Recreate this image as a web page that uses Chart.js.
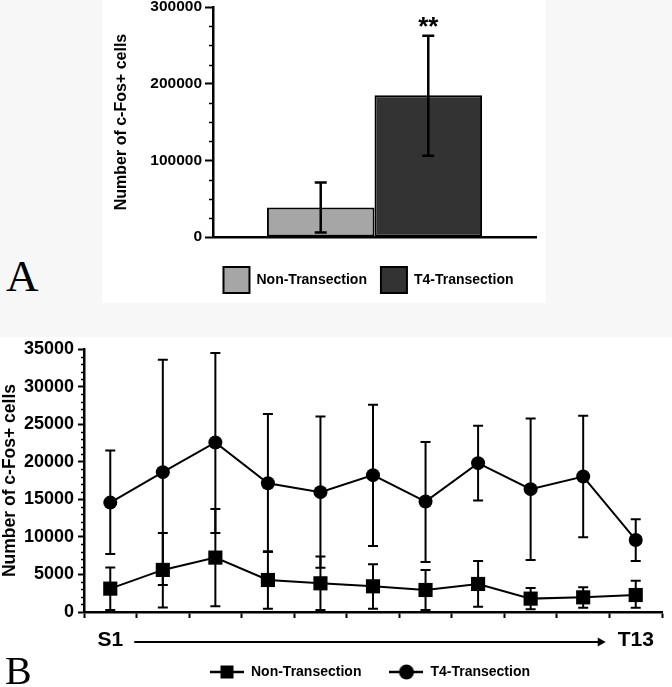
<!DOCTYPE html>
<html>
<head>
<meta charset="utf-8">
<script src="https://cdn.jsdelivr.net/npm/chart.js@4/dist/chart.umd.min.js"></script>
<style>
  body { margin: 0; width: 672px; height: 687px; background: #fff; position: relative; overflow: hidden; }
  .band { position: absolute; left: 0; top: 0; width: 672px; height: 337px; background: #f7f7f7; }
  .panel-a { position: absolute; left: 102px; top: 0; width: 444px; height: 303px; background: #fff; }
  .panel-b { position: absolute; left: 0; top: 337px; width: 672px; height: 350px; background: #fff; }
  .letter { position: absolute; font-family: "Liberation Serif", "DejaVu Serif", serif; color: #000; line-height: 1; }
</style>
</head>
<body>
<div class="band"></div>
<div class="panel-a"><canvas id="barChart" width="444" height="303"></canvas></div>
<div class="letter" style="left:6px; top:254px; font-size:45px;">A</div>
<div class="panel-b"><canvas id="lineChart" width="672" height="350"></canvas></div>
<div class="letter" style="left:5px; top:651px; font-size:40px;">B</div>
<script>
// DATA ################################################################################

// panel A - total counts
var groupNames = ['Non-Transection', 'T4-Transection'];
var totalMeans = [38500, 184800];
var totalHigh = [71000, 262600];
var totalLow = [6000, 106000];

// panel B - per segment counts
var segmentLabels = ['S1', '', '', '', '', '', '', '', '', '', 'T13'];
var nonMeans = [3110, 5600, 7240, 4260, 3820, 3420, 2930, 3730, 1780, 1950, 2260];
var nonHigh  = [5910, 10500, 13720, 8080, 7390, 6350, 5600, 6800, 3200, 3290, 4170];
var nonLow   = [270, 600, 760, 440, 250, 440, 270, 710, 360, 580, 580];
var t4Means  = [14560, 18610, 22560, 17140, 15950, 18210, 14700, 19810, 16350, 18030, 9590];
var t4High   = [21490, 33580, 34470, 26340, 26030, 27580, 22610, 24780, 25760, 26120, 12350];
var t4Low    = [7730, 3600, 10500, 8000, 5880, 8790, 6660, 14830, 6930, 9950, 6800];

var FONT = '"Liberation Sans", Arial, sans-serif';
Chart.defaults.font.family = FONT;
Chart.defaults.color = '#000';

function plainNumber(v) { return String(v); }

// PLUGINS #############################################################################

// error bars from dataset.errHigh / dataset.errLow
var errorBars = {
    id: 'errorBars',
    afterDatasetsDraw: function(chart, args, opts) {
        var ctx = chart.ctx;
        var yScale = chart.scales.y;
        ctx.save();
        ctx.strokeStyle = '#000';
        ctx.lineWidth = opts.width || 2;
        chart.data.datasets.forEach(function(ds, i) {
            var meta = chart.getDatasetMeta(i);
            meta.data.forEach(function(el, j) {
                var x = el.x;
                var top = yScale.getPixelForValue(ds.errHigh[j]);
                var bot = yScale.getPixelForValue(ds.errLow[j]);
                var cap = opts.cap || 5;
                ctx.beginPath();
                ctx.moveTo(x, top); ctx.lineTo(x, bot);
                ctx.moveTo(x - cap, top); ctx.lineTo(x + cap, top);
                ctx.moveTo(x - cap, bot); ctx.lineTo(x + cap, bot);
                ctx.stroke();
            });
        });
        ctx.restore();
    }
};

// short minor ticks on the y axis
var minorTicks = {
    id: 'minorTicks',
    afterDraw: function(chart, args, opts) {
        var ctx = chart.ctx;
        var y = chart.scales.y;
        ctx.save();
        ctx.strokeStyle = '#000';
        ctx.lineWidth = 1.5;
        for (var v = y.min; v <= y.max; v += opts.step) {
            if (v % opts.major === 0) continue;
            var py = Math.round(y.getPixelForValue(v)) + 0.5;
            ctx.beginPath();
            ctx.moveTo(y.right - opts.length, py);
            ctx.lineTo(y.right, py);
            ctx.stroke();
        }
        ctx.restore();
    }
};

// nudge the legend box after layout (bottom edge stays, so nothing gets clipped)
var legendShift = {
    id: 'legendShift',
    afterLayout: function(chart, args, opts) {
        var lg = chart.legend;
        if (!lg) return;
        lg.left += opts.dx || 0;
        lg.right += opts.dx || 0;
        lg.top += opts.dy || 0;
    }
};

// significance stars over the T4 bar
var stars = {
    id: 'stars',
    afterDraw: function(chart) {
        var ctx = chart.ctx;
        var el = chart.getDatasetMeta(1).data[0];
        var top = chart.scales.y.getPixelForValue(chart.data.datasets[1].errHigh[0]);
        ctx.save();
        ctx.font = 'bold 26px ' + FONT;
        ctx.textAlign = 'center';
        ctx.textBaseline = 'alphabetic';
        ctx.fillStyle = '#000';
        ctx.fillText('**', el.x, top - 1);
        ctx.restore();
    }
};

// S1 -> T13 arrow under the x axis
var segmentArrow = {
    id: 'segmentArrow',
    afterDraw: function(chart) {
        var ctx = chart.ctx;
        var x = chart.scales.x;
        var x0 = x.getPixelForValue(0) + 24;
        var x1 = x.getPixelForValue(segmentLabels.length - 1) - 30;
        var yy = chart.chartArea.bottom + 30;
        ctx.save();
        ctx.strokeStyle = '#000';
        ctx.fillStyle = '#000';
        ctx.lineWidth = 2;
        ctx.beginPath();
        ctx.moveTo(x0, yy); ctx.lineTo(x1 - 6, yy);
        ctx.stroke();
        ctx.beginPath();
        ctx.moveTo(x1, yy); ctx.lineTo(x1 - 8, yy - 4.5); ctx.lineTo(x1 - 8, yy + 4.5);
        ctx.closePath();
        ctx.fill();
        ctx.restore();
    }
};

function legendMarker(shape) {
    var c = document.createElement('canvas');
    c.width = 34; c.height = 16;
    var g = c.getContext('2d');
    g.strokeStyle = '#000';
    g.fillStyle = '#000';
    g.lineWidth = 2.5;
    g.beginPath(); g.moveTo(0, 8); g.lineTo(34, 8); g.stroke();
    if (shape === 'rect') {
        g.fillRect(10.5, 1.5, 13, 13);
    } else {
        g.beginPath(); g.arc(17, 8, 7.5, 0, Math.PI * 2); g.fill();
    }
    return c;
}

// PANEL A ##############################################################################

new Chart(document.getElementById('barChart'), {
    type: 'bar',
    data: {
        labels: [''],
        datasets: [{
            label: groupNames[0],
            data: [totalMeans[0]],
            errHigh: [totalHigh[0]],
            errLow: [totalLow[0]],
            backgroundColor: '#a6a6a6',
            borderColor: '#000',
            borderWidth: 2,
            borderSkipped: false
        }, {
            label: groupNames[1],
            data: [totalMeans[1]],
            errHigh: [totalHigh[1]],
            errLow: [totalLow[1]],
            backgroundColor: '#333333',
            borderColor: '#000',
            borderWidth: 2,
            borderSkipped: false
        }]
    },
    options: {
        responsive: false,
        animation: false,
        events: [],
        layout: { padding: { top: 7, right: 10, bottom: 0, left: 0 } },
        datasets: { bar: { categoryPercentage: 0.666, barPercentage: 1 } },
        scales: {
            x: {
                grid: { display: true, drawOnChartArea: false, drawTicks: false },
                border: { color: '#000', width: 2.5 },
                ticks: { display: false },
                afterFit: function(s) { s.height = 16; s.paddingLeft = 0; s.paddingRight = 0; }
            },
            y: {
                min: 0,
                max: 300000,
                ticks: { stepSize: 100000, padding: 3, callback: plainNumber, font: { size: 15.5, weight: 'bold' } },
                grid: { drawOnChartArea: false, tickLength: 8, tickWidth: 2, tickColor: '#000' },
                border: { color: '#000', width: 2.5 },
                title: {
                    display: true,
                    text: 'Number of c-Fos+ cells',
                    font: { size: 16, weight: 'bold' },
                    padding: { top: 10, bottom: 0 }
                },
                afterFit: function(s) { s.width = 111; s.paddingTop = 0; s.paddingBottom = 0; }
            }
        },
        plugins: {
            legend: {
                position: 'bottom',
                fullSize: false,
                maxHeight: 50,
                labels: {
                    boxWidth: 26,
                    boxHeight: 26,
                    padding: 14,
                    font: { size: 14, weight: 'bold' }
                }
            },
            legendShift: { dx: -6, dy: 0 },
            tooltip: { enabled: false },
            errorBars: { width: 2.5, cap: 6 },
            minorTicks: { step: 25000, major: 100000, length: 4 }
        }
    },
    plugins: [errorBars, minorTicks, stars, legendShift]
});

// PANEL B ##############################################################################

var squareMarker = legendMarker('rect');
var circleMarker = legendMarker('circle');

new Chart(document.getElementById('lineChart'), {
    type: 'line',
    data: {
        labels: segmentLabels,
        datasets: [{
            label: 'Non-Transection',
            data: nonMeans,
            errHigh: nonHigh,
            errLow: nonLow,
            borderColor: '#000',
            backgroundColor: '#000',
            borderWidth: 2,
            pointStyle: 'rect',
            pointRadius: 10,
            pointBorderWidth: 0
        }, {
            label: 'T4-Transection',
            data: t4Means,
            errHigh: t4High,
            errLow: t4Low,
            borderColor: '#000',
            backgroundColor: '#000',
            borderWidth: 2,
            pointStyle: 'circle',
            pointRadius: 7,
            pointBorderWidth: 0
        }]
    },
    options: {
        responsive: false,
        animation: false,
        events: [],
        layout: { padding: { top: 12, right: 2, bottom: 0, left: 0 } },
        scales: {
            x: {
                offset: true,
                grid: { offset: true, drawOnChartArea: false, tickLength: 6, tickWidth: 2, tickColor: '#000' },
                border: { color: '#000', width: 2.5 },
                ticks: { autoSkip: false, maxRotation: 0, padding: 10, font: { size: 21, weight: 'bold' } },
                afterFit: function(s) { s.height = 50; s.paddingLeft = 0; s.paddingRight = 0; }
            },
            y: {
                min: 0,
                max: 35000,
                ticks: { stepSize: 5000, padding: 4, callback: plainNumber, font: { size: 18, weight: 'bold' } },
                grid: { drawOnChartArea: false, tickLength: 6, tickWidth: 2, tickColor: '#000' },
                border: { color: '#000', width: 2.5 },
                title: {
                    display: true,
                    text: 'Number of c-Fos+ cells',
                    font: { size: 17.5, weight: 'bold' },
                    padding: { top: 0, bottom: 0 }
                },
                afterFit: function(s) { s.width = 84; s.paddingTop = 0; s.paddingBottom = 0; }
            }
        },
        plugins: {
            legend: {
                position: 'bottom',
                fullSize: false,
                maxHeight: 25,
                labels: {
                    usePointStyle: true,
                    pointStyleWidth: 34,
                    padding: 28,
                    font: { size: 14, weight: 'bold' },
                    generateLabels: function(chart) {
                        var items = Chart.defaults.plugins.legend.labels.generateLabels(chart);
                        items[0].pointStyle = squareMarker;
                        items[1].pointStyle = circleMarker;
                        return items;
                    }
                }
            },
            legendShift: { dx: -3, dy: -25 },
            tooltip: { enabled: false },
            errorBars: { width: 2, cap: 5 },
            minorTicks: { step: 1000, major: 5000, length: 3 }
        }
    },
    plugins: [errorBars, minorTicks, segmentArrow, legendShift]
});
</script>
</body>
</html>
